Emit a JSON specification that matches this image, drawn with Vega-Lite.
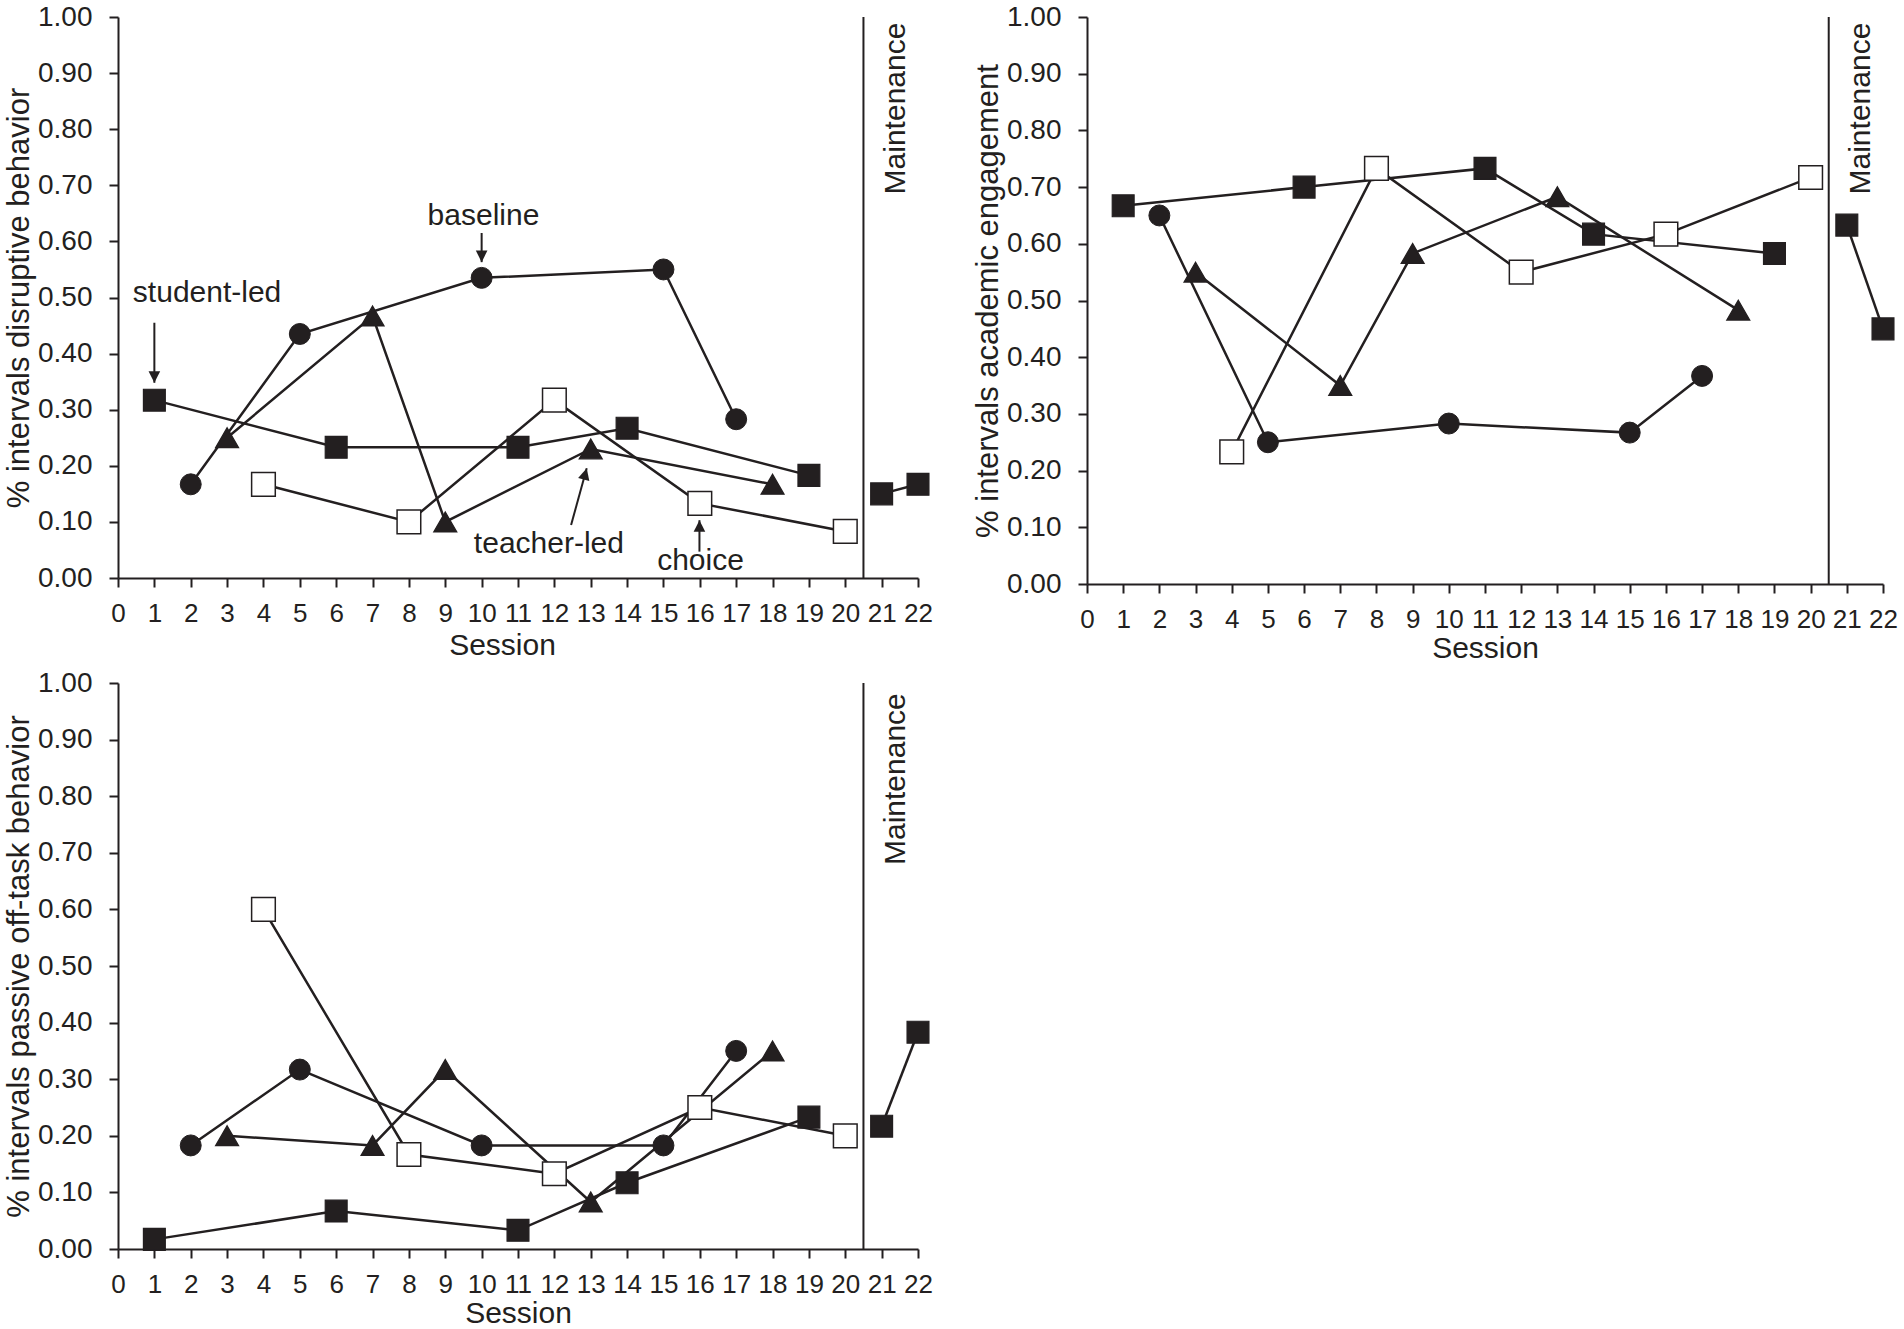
{
  "$schema": "https://vega.github.io/schema/vega-lite/v6.json",
  "background": "white",
  "padding": {"left": 3, "top": 3, "right": 5, "bottom": 0},
  "config": {
    "view": {"stroke": null},
    "font": "Liberation Sans",
    "axis": {
      "grid": false,
      "domainColor": "#231f20", "domainWidth": 2,
      "tickColor": "#231f20", "tickWidth": 2, "tickSize": 9,
      "labelColor": "#231f20", "titleColor": "#231f20",
      "labelFont": "Liberation Sans", "titleFont": "Liberation Sans",
      "titleFontWeight": "normal", "labelOverlap": false
    },
    "axisX": {"labelFontSize": 26, "labelPadding": 13, "titleFontSize": 30, "labelFlush": false, "labelOverlap": false},
    "axisY": {"labelFontSize": 28, "labelPadding": 17, "titlePadding": 2, "titleFontSize": 31, "labelOverlap": false}
  },
  "datasets": {
    "pts": [
      {"measure": "disruptive", "cond": "baseline", "phase": "intervention", "session": 2, "value": 0.167},
      {"measure": "disruptive", "cond": "baseline", "phase": "intervention", "session": 5, "value": 0.435},
      {"measure": "disruptive", "cond": "baseline", "phase": "intervention", "session": 10, "value": 0.535},
      {"measure": "disruptive", "cond": "baseline", "phase": "intervention", "session": 15, "value": 0.55},
      {"measure": "disruptive", "cond": "baseline", "phase": "intervention", "session": 17, "value": 0.283},
      {"measure": "disruptive", "cond": "student-led", "phase": "intervention", "session": 1, "value": 0.317},
      {"measure": "disruptive", "cond": "student-led", "phase": "intervention", "session": 6, "value": 0.233},
      {"measure": "disruptive", "cond": "student-led", "phase": "intervention", "session": 11, "value": 0.233},
      {"measure": "disruptive", "cond": "student-led", "phase": "intervention", "session": 14, "value": 0.267},
      {"measure": "disruptive", "cond": "student-led", "phase": "intervention", "session": 19, "value": 0.183},
      {"measure": "disruptive", "cond": "student-led", "phase": "maintenance", "session": 21, "value": 0.15},
      {"measure": "disruptive", "cond": "student-led", "phase": "maintenance", "session": 22, "value": 0.167},
      {"measure": "disruptive", "cond": "teacher-led", "phase": "intervention", "session": 3, "value": 0.25},
      {"measure": "disruptive", "cond": "teacher-led", "phase": "intervention", "session": 7, "value": 0.467},
      {"measure": "disruptive", "cond": "teacher-led", "phase": "intervention", "session": 9, "value": 0.1},
      {"measure": "disruptive", "cond": "teacher-led", "phase": "intervention", "session": 13, "value": 0.23},
      {"measure": "disruptive", "cond": "teacher-led", "phase": "intervention", "session": 18, "value": 0.167},
      {"measure": "disruptive", "cond": "choice", "phase": "intervention", "session": 4, "value": 0.167},
      {"measure": "disruptive", "cond": "choice", "phase": "intervention", "session": 8, "value": 0.1},
      {"measure": "disruptive", "cond": "choice", "phase": "intervention", "session": 12, "value": 0.317},
      {"measure": "disruptive", "cond": "choice", "phase": "intervention", "session": 16, "value": 0.133},
      {"measure": "disruptive", "cond": "choice", "phase": "intervention", "session": 20, "value": 0.083},

      {"measure": "engagement", "cond": "baseline", "phase": "intervention", "session": 2, "value": 0.65},
      {"measure": "engagement", "cond": "baseline", "phase": "intervention", "session": 5, "value": 0.25},
      {"measure": "engagement", "cond": "baseline", "phase": "intervention", "session": 10, "value": 0.283},
      {"measure": "engagement", "cond": "baseline", "phase": "intervention", "session": 15, "value": 0.267},
      {"measure": "engagement", "cond": "baseline", "phase": "intervention", "session": 17, "value": 0.367},
      {"measure": "engagement", "cond": "student-led", "phase": "intervention", "session": 1, "value": 0.667},
      {"measure": "engagement", "cond": "student-led", "phase": "intervention", "session": 6, "value": 0.7},
      {"measure": "engagement", "cond": "student-led", "phase": "intervention", "session": 11, "value": 0.733},
      {"measure": "engagement", "cond": "student-led", "phase": "intervention", "session": 14, "value": 0.617},
      {"measure": "engagement", "cond": "student-led", "phase": "intervention", "session": 19, "value": 0.583},
      {"measure": "engagement", "cond": "student-led", "phase": "maintenance", "session": 21, "value": 0.633},
      {"measure": "engagement", "cond": "student-led", "phase": "maintenance", "session": 22, "value": 0.45},
      {"measure": "engagement", "cond": "teacher-led", "phase": "intervention", "session": 3, "value": 0.55},
      {"measure": "engagement", "cond": "teacher-led", "phase": "intervention", "session": 7, "value": 0.35},
      {"measure": "engagement", "cond": "teacher-led", "phase": "intervention", "session": 9, "value": 0.583},
      {"measure": "engagement", "cond": "teacher-led", "phase": "intervention", "session": 13, "value": 0.683},
      {"measure": "engagement", "cond": "teacher-led", "phase": "intervention", "session": 18, "value": 0.483},
      {"measure": "engagement", "cond": "choice", "phase": "intervention", "session": 4, "value": 0.233},
      {"measure": "engagement", "cond": "choice", "phase": "intervention", "session": 8, "value": 0.733},
      {"measure": "engagement", "cond": "choice", "phase": "intervention", "session": 12, "value": 0.55},
      {"measure": "engagement", "cond": "choice", "phase": "intervention", "session": 16, "value": 0.617},
      {"measure": "engagement", "cond": "choice", "phase": "intervention", "session": 20, "value": 0.717},

      {"measure": "offtask", "cond": "baseline", "phase": "intervention", "session": 2, "value": 0.183},
      {"measure": "offtask", "cond": "baseline", "phase": "intervention", "session": 5, "value": 0.317},
      {"measure": "offtask", "cond": "baseline", "phase": "intervention", "session": 10, "value": 0.183},
      {"measure": "offtask", "cond": "baseline", "phase": "intervention", "session": 15, "value": 0.183},
      {"measure": "offtask", "cond": "baseline", "phase": "intervention", "session": 17, "value": 0.35},
      {"measure": "offtask", "cond": "student-led", "phase": "intervention", "session": 1, "value": 0.017},
      {"measure": "offtask", "cond": "student-led", "phase": "intervention", "session": 6, "value": 0.067},
      {"measure": "offtask", "cond": "student-led", "phase": "intervention", "session": 11, "value": 0.033},
      {"measure": "offtask", "cond": "student-led", "phase": "intervention", "session": 14, "value": 0.117},
      {"measure": "offtask", "cond": "student-led", "phase": "intervention", "session": 19, "value": 0.233},
      {"measure": "offtask", "cond": "student-led", "phase": "maintenance", "session": 21, "value": 0.217},
      {"measure": "offtask", "cond": "student-led", "phase": "maintenance", "session": 22, "value": 0.383},
      {"measure": "offtask", "cond": "teacher-led", "phase": "intervention", "session": 3, "value": 0.2},
      {"measure": "offtask", "cond": "teacher-led", "phase": "intervention", "session": 7, "value": 0.183},
      {"measure": "offtask", "cond": "teacher-led", "phase": "intervention", "session": 9, "value": 0.317},
      {"measure": "offtask", "cond": "teacher-led", "phase": "intervention", "session": 13, "value": 0.083},
      {"measure": "offtask", "cond": "teacher-led", "phase": "intervention", "session": 18, "value": 0.35},
      {"measure": "offtask", "cond": "choice", "phase": "intervention", "session": 4, "value": 0.6},
      {"measure": "offtask", "cond": "choice", "phase": "intervention", "session": 8, "value": 0.167},
      {"measure": "offtask", "cond": "choice", "phase": "intervention", "session": 12, "value": 0.133},
      {"measure": "offtask", "cond": "choice", "phase": "intervention", "session": 16, "value": 0.25},
      {"measure": "offtask", "cond": "choice", "phase": "intervention", "session": 20, "value": 0.2}
    ],
    "phase": [{"session": 20.5, "label": "Maintenance"}],
    "ann": [
      {"label": "student-led", "session": 2.45, "value": 0.492},
      {"label": "baseline", "session": 10.05, "value": 0.629},
      {"label": "teacher-led", "session": 11.85, "value": 0.045},
      {"label": "choice", "session": 16.02, "value": 0.014}
    ],
    "arrows": [
      {"label": "student-led", "fromSession": 1.0, "fromValue": 0.455, "toSession": 1.0, "toValue": 0.348},
      {"label": "baseline", "fromSession": 10.0, "fromValue": 0.615, "toSession": 10.0, "toValue": 0.563},
      {"label": "teacher-led", "fromSession": 12.46, "fromValue": 0.0945, "toSession": 12.89, "toValue": 0.1955},
      {"label": "choice", "fromSession": 15.99, "fromValue": 0.047, "toSession": 15.99, "toValue": 0.103}
    ]
  },
  "bounds": "flush",
  "columns": 2,
  "spacing": {"row": 99, "column": 169},
  "concat": [
    {
      "width": 800, "height": 561,
      "encoding": {
        "x": {"type": "quantitative", "scale": {"domain": [0, 22], "nice": false, "zero": false},
          "axis": {"title": "Session", "values": [0,1,2,3,4,5,6,7,8,9,10,11,12,13,14,15,16,17,18,19,20,21,22], "format": "d", "labelOverlap": false, "titlePadding": 4, "titleX": 384}},
        "y": {"type": "quantitative", "scale": {"domain": [0, 1], "nice": false},
          "axis": {"title": "% intervals disruptive behavior", "values": [0,0.1,0.2,0.3,0.4,0.5,0.6,0.7,0.8,0.9,1], "format": ".2f", "labelOverlap": false}}
      },
      "layer": [
        {
          "data": {"name": "phase"},
          "mark": {"type": "rule", "color": "#231f20", "strokeWidth": 2},
          "encoding": {"x": {"field": "session"}, "y": null}
        },
        {
          "data": {"name": "phase"},
          "mark": {"type": "text", "angle": 270, "align": "right", "baseline": "middle", "fontSize": 30, "color": "#231f20", "font": "Liberation Sans"},
          "encoding": {
            "x": {"datum": 21.4},
            "y": {"datum": 0.99},
            "text": {"field": "label"}
          }
        },
        {
          "data": {"name": "pts"},
          "transform": [{"filter": "datum.measure === 'disruptive'"}],
          "mark": {"type": "line", "color": "#231f20", "strokeWidth": 2.5},
          "encoding": {
            "x": {"field": "session"},
            "y": {"field": "value"},
            "detail": [{"field": "cond"}, {"field": "phase"}]
          }
        },
        {
          "data": {"name": "pts"},
          "transform": [{"filter": "datum.measure === 'disruptive'"}],
          "mark": {"type": "point", "filled": true, "stroke": "#231f20", "opacity": 1},
          "encoding": {
            "x": {"field": "session"},
            "y": {"field": "value"},
            "shape": {"field": "cond", "scale": {"domain": ["baseline","student-led","teacher-led","choice"], "range": ["circle","square","triangle-up","square"]}, "legend": null},
            "fill": {"field": "cond", "scale": {"domain": ["baseline","student-led","teacher-led","choice"], "range": ["#231f20","#231f20","#231f20","#ffffff"]}, "legend": null},
            "size": {"field": "cond", "scale": {"domain": ["baseline","student-led","teacher-led","choice"], "range": [440,560,620,470]}, "legend": null},
            "strokeWidth": {"field": "cond", "scale": {"domain": ["baseline","student-led","teacher-led","choice"], "range": [1,1.5,1,2]}, "legend": null}
          }
        },
        {
          "data": {"name": "arrows"},
          "mark": {"type": "rule", "color": "#231f20", "strokeWidth": 2},
          "encoding": {
            "x": {"field": "fromSession"},
            "y": {"field": "fromValue"},
            "x2": {"field": "toSession"},
            "y2": {"field": "toValue"}
          }
        },
        {
          "data": {"name": "arrows"},
          "mark": {"type": "point", "filled": true, "color": "#231f20", "size": 540, "opacity": 1},
          "encoding": {
            "x": {"field": "toSession"},
            "y": {"field": "toValue"},
            "shape": {"condition": {"test": "datum.label === 'student-led' || datum.label === 'baseline'", "value": "M0,0L-0.5,-1L0.5,-1Z"}, "value": "M0,0L-0.5,1L0.5,1Z"},
            "angle": {"condition": {"test": "datum.label === 'teacher-led'", "value": 15}, "value": 0}
          }
        },
        {
          "data": {"name": "ann"},
          "mark": {"type": "text", "fontSize": 30, "align": "center", "baseline": "alphabetic", "color": "#231f20", "font": "Liberation Sans"},
          "encoding": {
            "x": {"field": "session"},
            "y": {"field": "value"},
            "text": {"field": "label"}
          }
        }
      ]
    },
    {
      "width": 796, "height": 567,
      "encoding": {
        "x": {"type": "quantitative", "scale": {"domain": [0, 22], "nice": false, "zero": false},
          "axis": {"title": "Session", "values": [0,1,2,3,4,5,6,7,8,9,10,11,12,13,14,15,16,17,18,19,20,21,22], "format": "d", "labelOverlap": false, "titlePadding": 1}},
        "y": {"type": "quantitative", "scale": {"domain": [0, 1], "nice": false},
          "axis": {"title": "% intervals academic engagement", "values": [0,0.1,0.2,0.3,0.4,0.5,0.6,0.7,0.8,0.9,1], "format": ".2f", "labelOverlap": false}}
      },
      "layer": [
        {
          "data": {"name": "phase"},
          "mark": {"type": "rule", "color": "#231f20", "strokeWidth": 2},
          "encoding": {"x": {"field": "session"}, "y": null}
        },
        {
          "data": {"name": "phase"},
          "mark": {"type": "text", "angle": 270, "align": "right", "baseline": "middle", "fontSize": 30, "color": "#231f20", "font": "Liberation Sans"},
          "encoding": {
            "x": {"datum": 21.4},
            "y": {"datum": 0.99},
            "text": {"field": "label"}
          }
        },
        {
          "data": {"name": "pts"},
          "transform": [{"filter": "datum.measure === 'engagement'"}],
          "mark": {"type": "line", "color": "#231f20", "strokeWidth": 2.5},
          "encoding": {
            "x": {"field": "session"},
            "y": {"field": "value"},
            "detail": [{"field": "cond"}, {"field": "phase"}]
          }
        },
        {
          "data": {"name": "pts"},
          "transform": [{"filter": "datum.measure === 'engagement'"}],
          "mark": {"type": "point", "filled": true, "stroke": "#231f20", "opacity": 1},
          "encoding": {
            "x": {"field": "session"},
            "y": {"field": "value"},
            "shape": {"field": "cond", "scale": {"domain": ["baseline","student-led","teacher-led","choice"], "range": ["circle","square","triangle-up","square"]}, "legend": null},
            "fill": {"field": "cond", "scale": {"domain": ["baseline","student-led","teacher-led","choice"], "range": ["#231f20","#231f20","#231f20","#ffffff"]}, "legend": null},
            "size": {"field": "cond", "scale": {"domain": ["baseline","student-led","teacher-led","choice"], "range": [440,560,620,470]}, "legend": null},
            "strokeWidth": {"field": "cond", "scale": {"domain": ["baseline","student-led","teacher-led","choice"], "range": [1,1.5,1,2]}, "legend": null}
          }
        }
      ]
    },
    {
      "width": 800, "height": 566,
      "encoding": {
        "x": {"type": "quantitative", "scale": {"domain": [0, 22], "nice": false, "zero": false},
          "axis": {"title": "Session", "values": [0,1,2,3,4,5,6,7,8,9,10,11,12,13,14,15,16,17,18,19,20,21,22], "format": "d", "labelOverlap": false, "titlePadding": 1}},
        "y": {"type": "quantitative", "scale": {"domain": [0, 1], "nice": false},
          "axis": {"title": "% intervals passive off-task behavior", "values": [0,0.1,0.2,0.3,0.4,0.5,0.6,0.7,0.8,0.9,1], "format": ".2f", "labelOverlap": false}}
      },
      "layer": [
        {
          "data": {"name": "phase"},
          "mark": {"type": "rule", "color": "#231f20", "strokeWidth": 2},
          "encoding": {"x": {"field": "session"}, "y": null}
        },
        {
          "data": {"name": "phase"},
          "mark": {"type": "text", "angle": 270, "align": "right", "baseline": "middle", "fontSize": 30, "color": "#231f20", "font": "Liberation Sans"},
          "encoding": {
            "x": {"datum": 21.4},
            "y": {"datum": 0.982},
            "text": {"field": "label"}
          }
        },
        {
          "data": {"name": "pts"},
          "transform": [{"filter": "datum.measure === 'offtask'"}],
          "mark": {"type": "line", "color": "#231f20", "strokeWidth": 2.5},
          "encoding": {
            "x": {"field": "session"},
            "y": {"field": "value"},
            "detail": [{"field": "cond"}, {"field": "phase"}]
          }
        },
        {
          "data": {"name": "pts"},
          "transform": [{"filter": "datum.measure === 'offtask'"}],
          "mark": {"type": "point", "filled": true, "stroke": "#231f20", "opacity": 1},
          "encoding": {
            "x": {"field": "session"},
            "y": {"field": "value"},
            "shape": {"field": "cond", "scale": {"domain": ["baseline","student-led","teacher-led","choice"], "range": ["circle","square","triangle-up","square"]}, "legend": null},
            "fill": {"field": "cond", "scale": {"domain": ["baseline","student-led","teacher-led","choice"], "range": ["#231f20","#231f20","#231f20","#ffffff"]}, "legend": null},
            "size": {"field": "cond", "scale": {"domain": ["baseline","student-led","teacher-led","choice"], "range": [440,560,620,470]}, "legend": null},
            "strokeWidth": {"field": "cond", "scale": {"domain": ["baseline","student-led","teacher-led","choice"], "range": [1,1.5,1,2]}, "legend": null}
          }
        }
      ]
    }
  ]
}
